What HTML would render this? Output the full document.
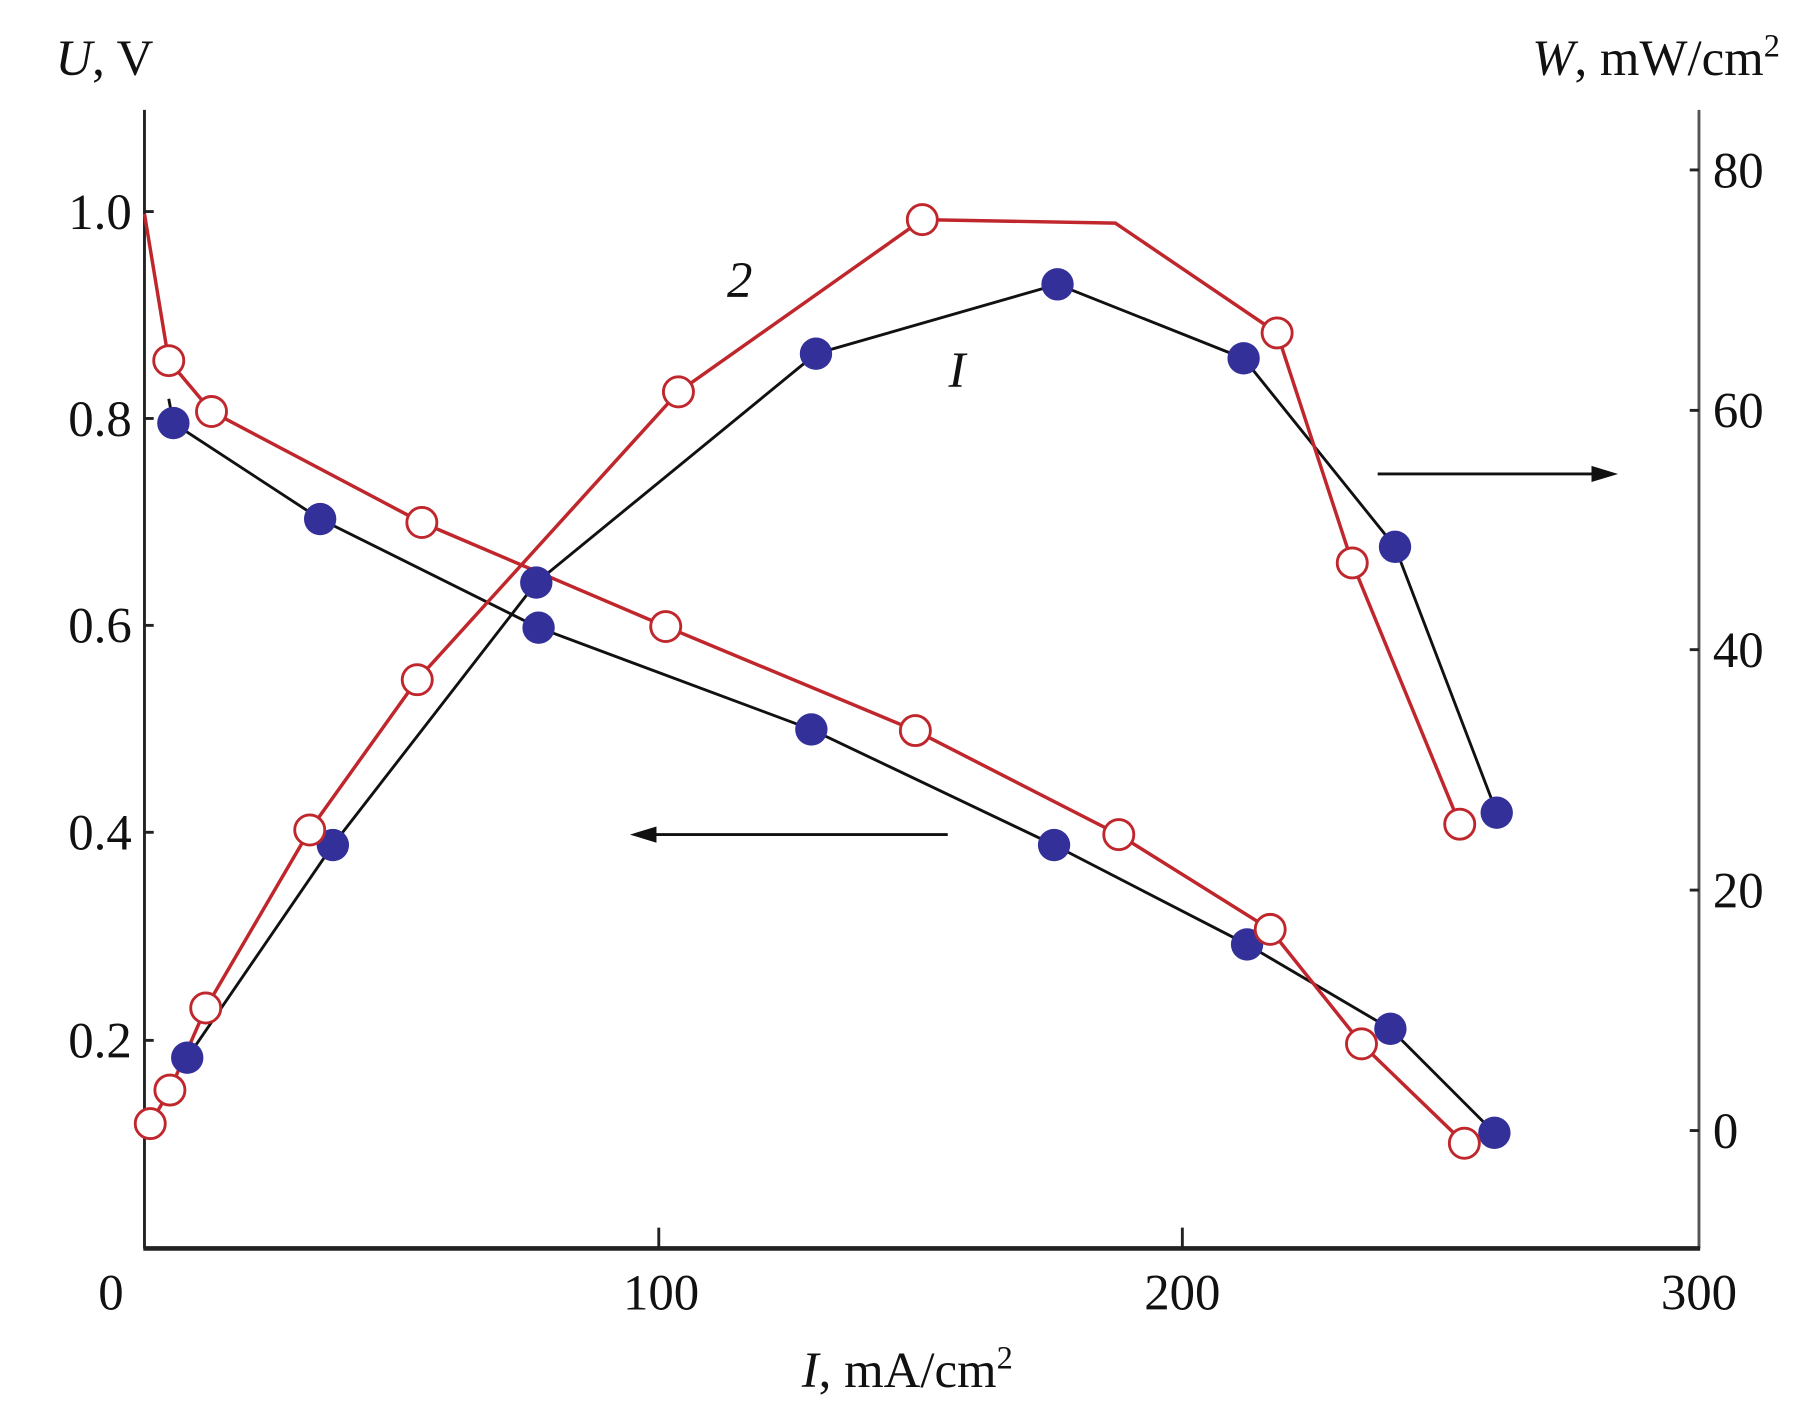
<!DOCTYPE html>
<html><head><style>html,body{margin:0;padding:0;background:#fff}svg{display:block}</style></head>
<body>
<svg width="1803" height="1423" viewBox="0 0 1560 1231" preserveAspectRatio="none" xmlns="http://www.w3.org/2000/svg" font-family="Liberation Serif, serif">
<g stroke="#222" stroke-width="2.5" fill="none">
<line x1="125" y1="95" x2="125" y2="1080"/>
<line x1="1470" y1="95" x2="1470" y2="1080" stroke="#555"/>
<line x1="124" y1="1080" x2="1471" y2="1080" stroke-width="4"/>
<line x1="570" y1="1080" x2="570" y2="1062"/>
<line x1="1023" y1="1080" x2="1023" y2="1062"/>
<line x1="125" y1="183" x2="133" y2="183"/><line x1="125" y1="362" x2="133" y2="362"/><line x1="125" y1="541" x2="133" y2="541"/><line x1="125" y1="720" x2="133" y2="720"/><line x1="125" y1="900" x2="133" y2="900"/>
<line x1="1470" y1="147" x2="1462" y2="147"/><line x1="1470" y1="355" x2="1462" y2="355"/><line x1="1470" y1="562" x2="1462" y2="562"/><line x1="1470" y1="770" x2="1462" y2="770"/><line x1="1470" y1="978" x2="1462" y2="978"/>
</g>
<g font-size="44" fill="#111">
<g text-anchor="end"><text x="114" y="198">1.0</text><text x="114" y="377">0.8</text><text x="114" y="556">0.6</text><text x="114" y="735">0.4</text><text x="114" y="915">0.2</text></g>
<g text-anchor="start"><text x="1482" y="162">80</text><text x="1482" y="370">60</text><text x="1482" y="577">40</text><text x="1482" y="785">20</text><text x="1482" y="993">0</text></g>
<g text-anchor="middle"><text x="96" y="1133">0</text><text x="572" y="1133">100</text><text x="1023" y="1133">200</text><text x="1470" y="1133">300</text></g>
<text x="785" y="1200" text-anchor="middle"><tspan font-style="italic">I</tspan>, mA/cm<tspan font-size="28" dy="-16">2</tspan></text>
<text x="48" y="65"><tspan font-style="italic">U</tspan>, V</text>
<text x="1540" y="65" text-anchor="end"><tspan font-style="italic">W</tspan>, mW/cm<tspan font-size="28" dy="-16">2</tspan></text>
<text x="640" y="257" text-anchor="middle" font-style="italic">2</text>
<text x="828" y="335" text-anchor="middle" font-style="italic">I</text>
</g>
<g stroke="#111" stroke-width="2.5" fill="#111">
<line x1="820" y1="722" x2="560" y2="722"/><polygon points="545,722 568,715 568,729" stroke="none"/>
<line x1="1192" y1="410" x2="1385" y2="410"/><polygon points="1400,410 1377,403 1377,417" stroke="none"/>
</g>
<g fill="none" stroke-width="2.5">
<polyline stroke="#111" points="146,345 150,366 277,449 466,543 702,631 912,731 1079,817 1203,890 1293,980"/>
<polyline stroke="#111" points="162,915 288,731 464,504 706,306 915,246 1076,310 1207,473 1295,703"/>
<polyline stroke="#c0272d" stroke-width="3" points="125,185 146,312 183,356 365,452 576,542 792,632 968,722 1099,804 1178,903 1267,989"/>
<polyline stroke="#c0272d" stroke-width="3" points="130,972 147,943 178,872 268,718 361,588 587,339 798,190 965,193 1105,288 1170,487 1263,713"/>
</g>
<g fill="#33309a">
<circle cx="150" cy="366" r="14"/><circle cx="277" cy="449" r="14"/><circle cx="466" cy="543" r="14"/><circle cx="702" cy="631" r="14"/><circle cx="912" cy="731" r="14"/><circle cx="1079" cy="817" r="14"/><circle cx="1203" cy="890" r="14"/><circle cx="1293" cy="980" r="14"/>
<circle cx="162" cy="915" r="14"/><circle cx="288" cy="731" r="14"/><circle cx="464" cy="504" r="14"/><circle cx="706" cy="306" r="14"/><circle cx="915" cy="246" r="14"/><circle cx="1076" cy="310" r="14"/><circle cx="1207" cy="473" r="14"/><circle cx="1295" cy="703" r="14"/>
</g>
<g fill="#fff" stroke="#c0272d" stroke-width="2.5">
<circle cx="146" cy="312" r="13"/><circle cx="183" cy="356" r="13"/><circle cx="365" cy="452" r="13"/><circle cx="576" cy="542" r="13"/><circle cx="792" cy="632" r="13"/><circle cx="968" cy="722" r="13"/><circle cx="1099" cy="804" r="13"/><circle cx="1178" cy="903" r="13"/><circle cx="1267" cy="989" r="13"/>
<circle cx="130" cy="972" r="13"/><circle cx="147" cy="943" r="13"/><circle cx="178" cy="872" r="13"/><circle cx="268" cy="718" r="13"/><circle cx="361" cy="588" r="13"/><circle cx="587" cy="339" r="13"/><circle cx="798" cy="190" r="13"/><circle cx="1105" cy="288" r="13"/><circle cx="1170" cy="487" r="13"/><circle cx="1263" cy="713" r="13"/>
</g>
</svg>
</body></html>
